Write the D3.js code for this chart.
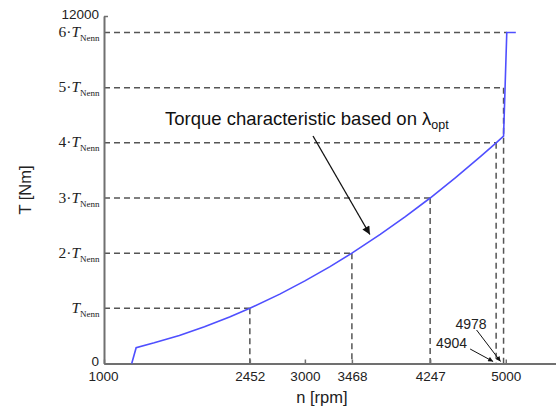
<!DOCTYPE html>
<html>
<head>
<meta charset="utf-8">
<script src="https://cdn.jsdelivr.net/npm/d3@7"></script>
<style>
  body { margin: 0; background: #fff; }
  svg { display: block; }
  .sans { font-family: "Liberation Sans", Arial, sans-serif; }
  .serif { font-family: "Liberation Serif", "Times New Roman", serif; }
</style>
</head>
<body>
<svg id="chart" width="556" height="410"></svg>
<script>
"use strict"

// rated torque, read from the spacing of the k*T_Nenn lines
const T_NENN = 1905

const speedTicks = [1000, 2452, 3000, 3468, 4247, 5000]
const torqueTicks = [0, 12000]
const multiples = [1, 2, 3, 4, 5, 6]
// speed at which each k*T_Nenn line is reached
const guideSpeeds = [2452, 3468, 4247, 4904, 4978, 5010]

// torque characteristic (blue line)
const curveSpeed  = [1276, 1320, 1500, 1750, 2000, 2250, 2452, 2750, 3000, 3250, 3468, 3750, 4000, 4247, 4500, 4750, 4904, 4978, 5010, 5100]
const curveTorque = [0, 545, 713, 970, 1267, 1604, 1905, 2396, 2852, 3347, 3811, 4456, 5070, 5715, 6416, 7149, 7620, 7852, 11430, 11430]

function draw() {
  const svg = d3.select("#chart")

  const x = d3.scaleLinear().domain([1000, 5500]).range([104, 556])
  const y = d3.scaleLinear().domain([0, 12000]).range([363.5, 16])

  const axisColor = "#707070"
  const dashColor = "#555"

  // arrow markers
  const defs = svg.append("defs")
  defs.append("marker")
      .attr("id", "arrowBig")
      .attr("viewBox", "0 0 10 10")
      .attr("refX", 10).attr("refY", 5)
      .attr("markerWidth", 11).attr("markerHeight", 8)
      .attr("markerUnits", "userSpaceOnUse")
      .attr("orient", "auto")
    .append("path")
      .attr("d", "M0,0 L10,5 L0,10 Z")
      .attr("fill", "#111")
  defs.append("marker")
      .attr("id", "arrowSmall")
      .attr("viewBox", "0 0 10 10")
      .attr("refX", 10).attr("refY", 5)
      .attr("markerWidth", 7).attr("markerHeight", 5)
      .attr("markerUnits", "userSpaceOnUse")
      .attr("orient", "auto")
    .append("path")
      .attr("d", "M0,0 L10,5 L0,10 Z")
      .attr("fill", "#111")

  // dashed guide lines
  const guides = svg.append("g")
      .attr("stroke", dashColor)
      .attr("stroke-width", 1.5)
      .attr("stroke-dasharray", "6,4")
      .attr("fill", "none")

  guides.selectAll("line.h")
    .data(multiples)
    .enter().append("line")
      .attr("class", "h")
      .attr("x1", x(1000))
      .attr("x2", (m, i) => x(guideSpeeds[i]))
      .attr("y1", m => y(m * T_NENN))
      .attr("y2", m => y(m * T_NENN))

  guides.selectAll("line.v")
    .data(multiples.slice(0, 5))
    .enter().append("line")
      .attr("class", "v")
      .attr("x1", (m, i) => x(guideSpeeds[i]))
      .attr("x2", (m, i) => x(guideSpeeds[i]))
      .attr("y1", m => y(m * T_NENN))
      .attr("y2", y(0))

  // axes
  const xAxis = d3.axisBottom(x)
    .tickValues(speedTicks)
    .tickFormat(d3.format("d"))
    .tickSizeInner(-4)
    .tickSizeOuter(0)
    .tickPadding(8)

  const gx = svg.append("g")
      .attr("transform", `translate(0,${y(0)})`)
      .call(xAxis)
  gx.select(".domain").attr("stroke", axisColor).attr("stroke-width", 2)
  gx.selectAll(".tick line").attr("stroke", axisColor).attr("stroke-width", 1.5)
  gx.selectAll(".tick text")
      .attr("class", "sans")
      .attr("font-size", 13.5)
      .attr("fill", "#222")
  gx.selectAll(".tick").filter(d => d === 1000).select("text").attr("dx", "-1")

  const yAxis = d3.axisLeft(y)
    .tickValues(torqueTicks)
    .tickFormat(d3.format("d"))
    .tickSizeInner(-4)
    .tickSizeOuter(0)
    .tickPadding(5)

  const gy = svg.append("g")
      .attr("transform", `translate(${x(1000)},0)`)
      .call(yAxis)
  gy.select(".domain").attr("stroke", axisColor).attr("stroke-width", 2)
  gy.selectAll(".tick line").attr("stroke", axisColor).attr("stroke-width", 1.5)
  gy.selectAll(".tick text")
      .attr("class", "sans")
      .attr("font-size", 13.5)
      .attr("fill", "#222")
  gy.selectAll(".tick").filter(d => d === 12000).select("text").attr("dy", "0.2em")
  gy.selectAll(".tick").filter(d => d === 0).select("text").attr("dy", "0.12em")

  // k*T_Nenn labels
  const mLabels = svg.append("g")
    .selectAll("text")
    .data(multiples)
    .enter().append("text")
      .attr("class", "serif")
      .attr("x", x(1000) - 4.5)
      .attr("y", m => y(m * T_NENN) + 4.5)
      .attr("text-anchor", "end")
      .attr("font-size", 15.5)
      .attr("fill", "#222")
  mLabels.append("tspan").text(m => m === 1 ? "" : m + "\u00B7")
  mLabels.append("tspan").attr("font-style", "italic").text("T")
  mLabels.append("tspan").attr("font-size", 9).attr("dy", 4).text("Nenn")

  // axis titles
  svg.append("text")
      .attr("class", "sans")
      .attr("x", x(3000) + 17)
      .attr("y", 403)
      .attr("text-anchor", "middle")
      .attr("font-size", 16.5)
      .attr("fill", "#222")
      .text("n [rpm]")

  svg.append("text")
      .attr("class", "sans")
      .attr("transform", "translate(31,190) rotate(-90)")
      .attr("text-anchor", "middle")
      .attr("font-size", 16.5)
      .attr("fill", "#222")
      .text("T [Nm]")

  // torque characteristic
  const pts = curveSpeed.map((n, i) => [n, curveTorque[i]])
  svg.append("path")
      .datum(pts)
      .attr("fill", "none")
      .attr("stroke", "#4f4fff")
      .attr("stroke-width", 1.6)
      .attr("d", d3.line().x(d => x(d[0])).y(d => y(d[1])))

  // main annotation
  const note = svg.append("text")
      .attr("class", "sans")
      .attr("x", 165)
      .attr("y", 125)
      .attr("font-size", 18.5)
      .attr("fill", "#111")
  note.append("tspan").text("Torque characteristic based on ")
  note.append("tspan").text("\u03BB")
  note.append("tspan").attr("font-size", 12.5).attr("dy", 4).text("opt")

  const tipN = 3647, tipT = 4214
  svg.append("line")
      .attr("x1", 313).attr("y1", 136)
      .attr("x2", x(tipN)).attr("y2", y(tipT) - 7)
      .attr("stroke", "#111")
      .attr("stroke-width", 1.3)
      .attr("marker-end", "url(#arrowBig)")

  // small annotations for 4904 / 4978
  const small = [
    { n: 4978, tx: -17, ty: -34.5, ax: -27, ay: -33.5 },
    { n: 4904, tx: -29, ty: -15.5, ax: -26, ay: -14.5 },
  ]
  small.forEach(s => {
    svg.append("text")
        .attr("class", "sans")
        .attr("x", x(s.n) + s.tx)
        .attr("y", y(0) + s.ty)
        .attr("text-anchor", "end")
        .attr("font-size", 14)
        .attr("fill", "#222")
        .text(s.n)
    svg.append("line")
        .attr("x1", x(s.n) + s.ax).attr("y1", y(0) + s.ay)
        .attr("x2", x(s.n) - 3).attr("y2", y(0) - 2)
        .attr("stroke", "#111")
        .attr("stroke-width", 1)
        .attr("marker-end", "url(#arrowSmall)")
  })
}

draw()
</script>
</body>
</html>
